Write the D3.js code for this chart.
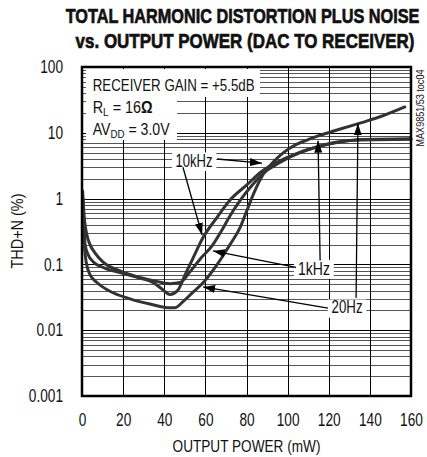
<!DOCTYPE html>
<html><head><meta charset="utf-8">
<script src="https://cdn.jsdelivr.net/npm/d3@7"></script>
<style>
html,body{margin:0;padding:0;background:#fff;}
svg{display:block;}
text{font-family:"Liberation Sans",Arial,sans-serif;fill:#111;}
</style></head>
<body>
<div id="chart"></div>
<script>
// ---------- data ----------
const xTicks = [0, 20, 40, 60, 80, 100, 120, 140, 160];
const yTicks = [0.001, 0.01, 0.1, 1, 10, 100];
const yTickLabels = ["0.001", "0.01", "0.1", "1", "10", "100"];
const seriesNames = ["20Hz", "1kHz", "10kHz"];
// [output power mW, THD+N %]
const thd20Hz = [[0.3,0.95],[1,0.24],[2,0.11],[3.9,0.07],[7.3,0.053],[13.6,0.039],[23.3,0.03],[33,0.025],[41.8,0.022],[45.2,0.022],[49,0.027],[54,0.038],[59,0.053],[65.7,0.099],[72,0.2],[76.8,0.36],[80.5,0.7],[84,1.3],[88,2.3],[93,3.6],[98,5.0],[104,6.6],[110,7.9],[116,9.2],[126,11.5],[136,14.3],[146,18],[157,24.7]];
const thd1kHz = [[0.3,1.3],[1,0.56],[2.4,0.28],[3.9,0.2],[6.3,0.15],[10,0.11],[18.5,0.08],[26.7,0.065],[34.5,0.057],[42.8,0.051],[47.7,0.053],[52.5,0.077],[57.4,0.12],[63.7,0.2],[68,0.33],[72,0.55],[77,0.95],[82,1.5],[88,2.4],[96,3.5],[106,5.0],[116,6.3],[126,7.3],[136,7.9],[160,8.1]];
const thd10kHz = [[0.3,1.1],[1,0.4],[1.5,0.2],[3,0.14],[5.4,0.11],[11,0.088],[18.5,0.075],[28,0.062],[34.5,0.053],[39,0.042],[42.8,0.035],[46.5,0.04],[50,0.068],[54,0.125],[59,0.26],[65.7,0.52],[72,0.95],[80,1.6],[87.5,2.6],[95,3.6],[104,4.8],[115,6.2],[125,7.3],[135,7.8],[160,8.0]];
const seriesData = [thd20Hz, thd1kHz, thd10kHz];

// annotation labels: [text, power, thd]
const labelText = ["10kHz", "1kHz", "20Hz"];
const labelAt = [[54.5, 3.86], [112.8, 0.088], [128.9, 0.0226]];
const labelWidth = [37, 32, 31];
// arrows: [fromP, fromT, toP, toT]
const arrows = [
  [65.7, 4.0, 87.5, 3.45],
  [49.1, 3.0, 58.4, 0.28],
  [104.1, 0.09, 63.7, 0.16],
  [115.8, 0.115, 114.8, 7.6],
  [119.6, 0.0217, 58.9, 0.0454],
  [133.3, 0.031, 134.2, 13.9]
];

// ---------- layout ----------
const W = 427, H = 457;
const L = 82, R = 411, T = 67, B = 396;
const x = d3.scaleLinear().domain([0, 160]).range([L, R]);
const y = d3.scaleLog().domain([0.001, 100]).range([B, T]);

const svg = d3.select("#chart").append("svg").attr("width", W).attr("height", H);

// place text condensed to a target width
function fitText(parent, str, o) {
  const g = parent.append("g");
  const t = g.append("text").attr("x", 0).attr("y", 0)
    .attr("text-anchor", o.anchor || "middle").attr("font-size", o.size)
    .attr("font-weight", o.weight || "normal").text(str);
  if (o.stroke) t.attr("stroke", "#111").attr("stroke-width", o.stroke);
  const w = t.node().getComputedTextLength();
  const s = o.width / w;
  g.attr("transform", `translate(${o.x},${o.y}) rotate(${o.rotate || 0}) scale(${s},1)`);
  return g;
}

// title
fitText(svg, "TOTAL HARMONIC DISTORTION PLUS NOISE", {x: 242.5, y: 22.5, width: 354, size: 21, weight: "bold", stroke: 0.7});
fitText(svg, "vs. OUTPUT POWER (DAC TO RECEIVER)", {x: 245, y: 47.5, width: 339, size: 21, weight: "bold", stroke: 0.7});

// grid
const grid = svg.append("g");
const hLines = [];
[0.001, 0.01, 0.1, 1, 10].forEach(d => { for (let m = 1; m <= 9; m++) hLines.push(d * m); });
hLines.push(100);
grid.selectAll("line.h").data(hLines).join("line")
  .attr("x1", L).attr("x2", R)
  .attr("y1", d => Math.round(y(d)) + 0.5).attr("y2", d => Math.round(y(d)) + 0.5)
  .attr("stroke", (d, i) => (i % 9 === 0) ? "#000" : "#555").attr("stroke-width", 1);
grid.selectAll("line.v").data(xTicks).join("line")
  .attr("y1", T).attr("y2", B)
  .attr("x1", d => Math.round(x(d)) + 0.5).attr("x2", d => Math.round(x(d)) + 0.5)
  .attr("stroke", "#000").attr("stroke-width", 1);

// axes (labels only)
const tickScale = 0.76;
const xAxis = svg.append("g").attr("transform", `translate(0,${B + 14})`)
  .call(d3.axisBottom(x).tickValues(xTicks).tickSize(0).tickFormat(d3.format("d")));
xAxis.select(".domain").remove();
xAxis.selectAll("text").attr("font-size", 18).attr("font-family", "Liberation Sans, Arial, sans-serif")
  .attr("fill", "#111").attr("transform", `scale(${tickScale},1)`);
const yAxis = svg.append("g").attr("transform", `translate(${L - 19},0)`)
  .call(d3.axisLeft(y).tickValues(yTicks).tickSize(0).tickFormat((d, i) => yTickLabels[i]));
yAxis.select(".domain").remove();
yAxis.selectAll("text").attr("font-size", 18).attr("font-family", "Liberation Sans, Arial, sans-serif")
  .attr("fill", "#111").attr("x", 0).attr("transform", `scale(${tickScale},1)`);

// axis titles
fitText(svg, "OUTPUT POWER (mW)", {x: (L + R) / 2, y: 451.5, width: 148, size: 17});
fitText(svg, "THD+N (%)", {x: 23, y: 231, width: 75, size: 17, rotate: -90});

// side code
fitText(svg, "MAX9851/53 toc04", {x: 424, y: 108, width: 77, size: 11, rotate: -90});

// condition box
const box = svg.append("g");
box.append("rect").attr("x", L + 4).attr("y", T + 2).attr("width", 260 - L - 4).attr("height", 97 - T - 2).attr("fill", "#fff");
box.append("rect").attr("x", L + 4).attr("y", 97).attr("width", 177 - L - 4).attr("height", 43).attr("fill", "#fff");
fitText(box, "RECEIVER GAIN = +5.5dB", {x: 92.7, y: 91, width: 162, size: 16, anchor: "start"});
{
  const g = box.append("g");
  const t2 = g.append("text").attr("x", 0).attr("y", 0).attr("font-size", 16);
  t2.append("tspan").text("R");
  t2.append("tspan").attr("font-size", 11).attr("dy", 3).text("L");
  t2.append("tspan").attr("dy", -3).text(" = 16");
  t2.append("tspan").attr("font-weight", "bold").text("Ω");
  const s = 60 / t2.node().getComputedTextLength();
  g.attr("transform", `translate(92.7,113) scale(${s},1)`);
}
{
  const g = box.append("g");
  const t3 = g.append("text").attr("x", 0).attr("y", 0).attr("font-size", 16);
  t3.append("tspan").text("AV");
  t3.append("tspan").attr("font-size", 11).attr("dy", 3).text("DD");
  t3.append("tspan").attr("dy", -3).text(" = 3.0V");
  const s = 77 / t3.node().getComputedTextLength();
  g.attr("transform", `translate(92.7,135) scale(${s},1)`);
}

// curves
const line = d3.line().x(d => x(d[0])).y(d => y(d[1])).curve(d3.curveMonotoneX);
svg.append("g").selectAll("path").data(seriesData).join("path")
  .attr("d", line).attr("fill", "none").attr("stroke", "#333").attr("stroke-width", 3)
  .attr("stroke-linejoin", "round").attr("stroke-linecap", "round");

// arrow head
const defs = svg.append("defs");
defs.append("marker").attr("id", "ah").attr("viewBox", "0 0 12 8").attr("refX", 12).attr("refY", 4)
  .attr("markerWidth", 12).attr("markerHeight", 8).attr("markerUnits", "userSpaceOnUse").attr("orient", "auto")
  .append("path").attr("d", "M0,0 L12,4 L0,8 Z").attr("fill", "#000");

// labels with white background
labelText.forEach((t, i) => {
  const g = fitText(svg, t, {x: x(labelAt[i][0]), y: y(labelAt[i][1]) + 6.5, width: labelWidth[i], size: 18});
  const bb = g.select("text").node().getBBox();
  g.insert("rect", "text").attr("x", bb.x - 5).attr("y", bb.y + 2).attr("width", bb.width + 10).attr("height", bb.height - 1).attr("fill", "#fff");
});
svg.append("g").selectAll("line").data(arrows).join("line")
  .attr("x1", d => x(d[0])).attr("y1", d => y(d[1]))
  .attr("x2", d => x(d[2])).attr("y2", d => y(d[3]))
  .attr("stroke", "#000").attr("stroke-width", 1.3).attr("marker-end", "url(#ah)");

// frame
svg.append("rect").attr("x", L).attr("y", T).attr("width", R - L).attr("height", B - T)
  .attr("fill", "none").attr("stroke", "#000").attr("stroke-width", 2.5);
</script>
</body></html>
